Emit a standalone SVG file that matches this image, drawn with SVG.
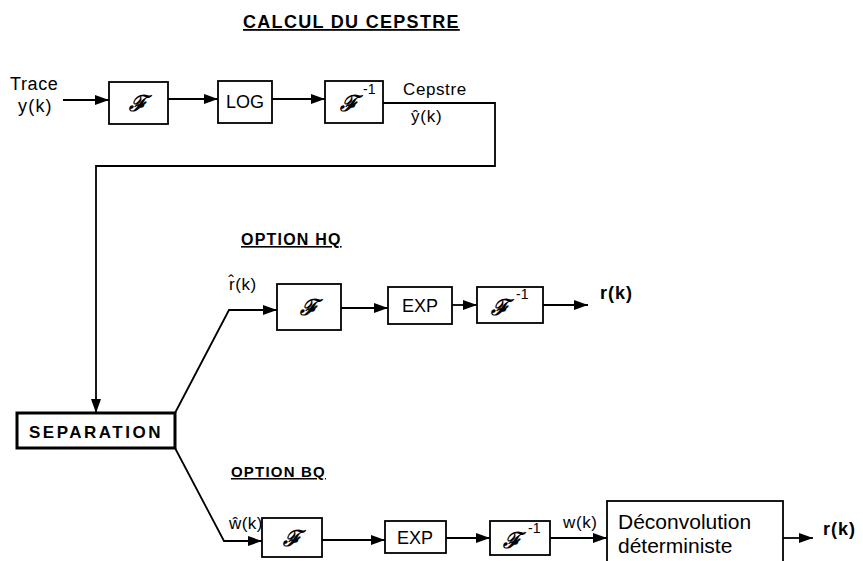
<svg xmlns="http://www.w3.org/2000/svg" width="863" height="561" viewBox="0 0 863 561">
<style>
.bg{fill:#fff}
.box{fill:none;stroke:#000;stroke-width:1.8}
.sep{fill:none;stroke:#000;stroke-width:3}
.ln{fill:none;stroke:#000;stroke-width:1.8}
.t{font-family:"Liberation Sans",Arial,sans-serif;fill:#000}
.h{font-family:"Liberation Sans",Arial,sans-serif;font-weight:bold;fill:#000;text-decoration:underline}
.f{font-family:"DejaVu Serif",serif;font-weight:bold;font-style:italic;fill:#000;font-size:22px}
.sup{font-family:"Liberation Sans",Arial,sans-serif;fill:#000;font-size:14px}
</style>
<defs>
<marker id="ah" markerUnits="userSpaceOnUse" markerWidth="15" markerHeight="11" refX="14" refY="5" orient="auto">
<path d="M0,0 L14,5 L0,10 z" fill="#000"/>
</marker>
</defs>
<rect class="bg" width="863" height="561"/>

<g id="titles">
<text class="h" x="243" y="28" font-size="18" letter-spacing="1.3">CALCUL DU CEPSTRE</text>
<text class="h" x="241" y="245" font-size="16" letter-spacing="1.2">OPTION HQ</text>
<text class="h" x="231" y="477" font-size="15" letter-spacing="1.2">OPTION BQ</text>
</g>

<g id="connectors">
<path class="ln" d="M63 100 H109" marker-end="url(#ah)"/>
<path class="ln" d="M168 99 H218" marker-end="url(#ah)"/>
<path class="ln" d="M272 99 H325" marker-end="url(#ah)"/>
<path class="ln" d="M383 103 H495 V166 H96 V413" marker-end="url(#ah)"/>
<path class="ln" d="M175 413 L229 310 H277" marker-end="url(#ah)"/>
<path class="ln" d="M341 308 H388" marker-end="url(#ah)"/>
<path class="ln" d="M452 305 H477" marker-end="url(#ah)"/>
<path class="ln" d="M543 305 H588" marker-end="url(#ah)"/>
<path class="ln" d="M175 448 L224 541 H262" marker-end="url(#ah)"/>
<path class="ln" d="M322 540 H385" marker-end="url(#ah)"/>
<path class="ln" d="M446 538 H490" marker-end="url(#ah)"/>
<path class="ln" d="M550 538 H607" marker-end="url(#ah)"/>
<path class="ln" d="M783 538 H813" marker-end="url(#ah)"/>
</g>

<g id="labels">
<text class="t" x="10" y="90" font-size="18" letter-spacing="0.6">Trace</text>
<text class="t" x="18" y="112" font-size="18" letter-spacing="1.2">y(k)</text>
<text class="t" x="403" y="95" font-size="17" letter-spacing="0.6">Cepstre</text>
<text class="t" x="411" y="122" font-size="17" letter-spacing="0.8">ŷ(k)</text>
<text class="t" x="229" y="290" font-size="17" letter-spacing="0.6">r̂(k)</text>
<text class="t" x="600" y="299" font-size="18" font-weight="bold" letter-spacing="1">r(k)</text>
<text class="t" x="229" y="529" font-size="17" letter-spacing="0.4">ŵ(k)</text>
<text class="t" x="563" y="528" font-size="17" letter-spacing="0.6">w(k)</text>
<text class="t" x="823" y="535" font-size="18" font-weight="bold" letter-spacing="1">r(k)</text>
</g>

<g id="f1">
<rect class="box" x="109" y="82" width="59" height="42"/>
<text class="f" x="138" y="111" text-anchor="middle">ℱ</text>
</g>
<g id="log">
<rect class="box" x="218" y="81" width="54" height="42"/>
<text class="t" x="245" y="108" font-size="18" text-anchor="middle">LOG</text>
</g>
<g id="finv1">
<rect class="box" x="325" y="81" width="58" height="42"/>
<text class="f" x="349" y="111" text-anchor="middle">ℱ</text>
<text class="sup" x="363" y="94">-1</text>
</g>

<g id="separation">
<rect class="sep" x="17" y="413" width="158" height="35"/>
<text class="t" x="96" y="438" font-size="17" font-weight="bold" letter-spacing="2.5" text-anchor="middle">SEPARATION</text>
</g>

<g id="f2">
<rect class="box" x="277" y="284" width="64" height="46"/>
<text class="f" x="309" y="315" text-anchor="middle">ℱ</text>
</g>
<g id="exp2">
<rect class="box" x="388" y="287" width="64" height="37"/>
<text class="t" x="420" y="312" font-size="18" text-anchor="middle">EXP</text>
</g>
<g id="finv2">
<rect class="box" x="477" y="287" width="66" height="36"/>
<text class="f" x="500" y="315" text-anchor="middle">ℱ</text>
<text class="sup" x="516" y="299">-1</text>
</g>

<g id="f3">
<rect class="box" x="262" y="518" width="60" height="39"/>
<text class="f" x="292" y="546" text-anchor="middle">ℱ</text>
</g>
<g id="exp3">
<rect class="box" x="385" y="521" width="61" height="32"/>
<text class="t" x="415" y="544" font-size="18" text-anchor="middle">EXP</text>
</g>
<g id="finv3">
<rect class="box" x="490" y="521" width="60" height="34"/>
<text class="f" x="512" y="548" text-anchor="middle">ℱ</text>
<text class="sup" x="528" y="533">-1</text>
</g>
<g id="deconv">
<rect class="box" x="607" y="501" width="176" height="66"/>
<text class="t" x="618" y="529" font-size="21">Déconvolution</text>
<text class="t" x="618" y="553" font-size="21">déterministe</text>
</g>
</svg>
